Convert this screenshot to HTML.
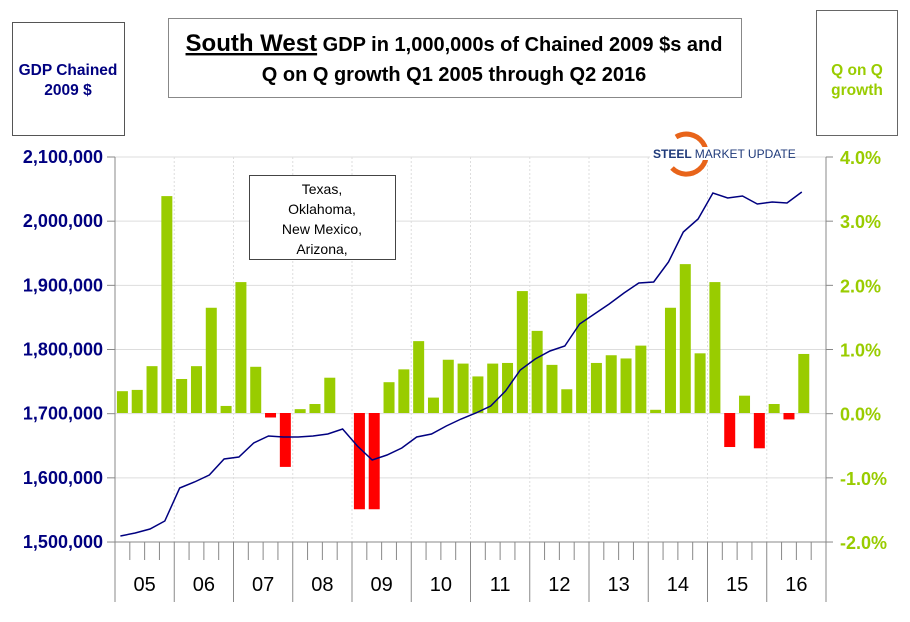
<!DOCTYPE html>
<html><head><meta charset="utf-8"><style>
html,body{margin:0;padding:0;background:#fff;}
svg{display:block;font-family:"Liberation Sans",Arial,sans-serif;}
</style></head><body>
<svg id="c" width="910" height="622" viewBox="0 0 910 622" xmlns="http://www.w3.org/2000/svg">
<rect x="0" y="0" width="910" height="622" fill="#fff"/>
<g id="grid"></g>
<rect x="12.5" y="22.5" width="112" height="113" fill="#fff" stroke="#555"/>
<text x="68" y="75" text-anchor="middle" font-size="15.5" font-weight="bold" fill="#000080">GDP Chained</text>
<text x="68" y="95" text-anchor="middle" font-size="15.5" font-weight="bold" fill="#000080">2009 $</text>
<rect x="816.5" y="10.5" width="81" height="125" fill="#fff" stroke="#666"/>
<text x="857" y="75" text-anchor="middle" font-size="15.5" font-weight="bold" fill="#99cc00">Q on Q</text>
<text x="857" y="95" text-anchor="middle" font-size="15.5" font-weight="bold" fill="#99cc00">growth</text>
<rect x="168.5" y="18.5" width="573" height="79" fill="#fff" stroke="#888"/>
<text x="454" y="51" text-anchor="middle" font-size="20" font-weight="bold"><tspan font-size="24" text-decoration="underline">South West</tspan> GDP in 1,000,000s of Chained 2009 $s and</text>
<text x="454" y="81" text-anchor="middle" font-size="20" font-weight="bold">Q on Q growth Q1 2005 through Q2 2016</text>
<rect x="249.5" y="175.5" width="146" height="84" fill="#fff" stroke="#444"/>
<text x="322" y="194" text-anchor="middle" font-size="14">Texas,</text>
<text x="322" y="214" text-anchor="middle" font-size="14">Oklahoma,</text>
<text x="322" y="234" text-anchor="middle" font-size="14">New Mexico,</text>
<text x="322" y="254" text-anchor="middle" font-size="14">Arizona,</text>
<path d="M676 137 A20 20 0 1 1 672 168" fill="none" stroke="#e8641a" stroke-width="5"/>
<rect x="650" y="147" width="132" height="13" fill="#fff"/>
<text x="653" y="158" font-size="12" font-weight="bold" fill="#1f3a7a">STEEL <tspan font-weight="normal">MARKET UPDATE</tspan></text>
</svg>
<script>
var s=document.getElementById('c'),g=document.getElementById('grid'),NS='http://www.w3.org/2000/svg';
function el(t,a,p){var e=document.createElementNS(NS,t);for(var k in a)e.setAttribute(k,a[k]);(p||g).appendChild(e);return e;}
var x0=115,x1=826,y0=157,y1=542,q=(x1-x0)/48,yr=q*4;
function Y(p){return 413-p*64.17;}
for(var i=0;i<=6;i++){var y=y0+i*64.17;el('line',{x1:x0,x2:x1,y1:y,y2:y,stroke:'#ddd'});
el('line',{x1:x0-8,x2:x0,y1:y,y2:y,stroke:'#888'});el('line',{x1:x1,x2:x1+7,y1:y,y2:y,stroke:'#888'});
var v=2100000-i*100000;el('text',{x:x0-12,y:y+6,'text-anchor':'end','font-size':18,'font-weight':'bold',fill:'#000080'}).textContent=v.toLocaleString('en-US');
var p=(4-i).toFixed(1)+'%';el('text',{x:x1+14,y:y+7,'font-size':18,'font-weight':'bold',fill:'#99cc00'}).textContent=p;}
for(var j=1;j<12;j++){var x=x0+j*yr;el('line',{x1:x,x2:x,y1:y0,y2:y1,stroke:'#ddd','stroke-dasharray':'2,2'});}
el('line',{x1:x0,x2:x0,y1:y0,y2:602,stroke:'#888'});el('line',{x1:x1,x2:x1,y1:y0,y2:602,stroke:'#888'});
el('line',{x1:x0,x2:x1,y1:y1,y2:y1,stroke:'#888'});
for(var k=0;k<=48;k++){var x=x0+k*q;var big=k%4==0;el('line',{x1:x,x2:x,y1:y1,y2:big?602:560,stroke:'#888'});}
var yrs=['05','06','07','08','09','10','11','12','13','14','15','16'];
for(var j=0;j<12;j++)el('text',{x:x0+j*yr+yr/2,y:591,'text-anchor':'middle','font-size':20}).textContent=yrs[j];
var b=[0.34,0.36,0.73,3.38,0.53,0.73,1.64,0.11,2.04,0.72,-0.07,-0.84,0.06,0.14,0.55,0,-1.5,-1.5,0.48,0.68,1.12,0.24,0.83,0.77,0.57,0.77,0.78,1.9,1.28,0.75,0.37,1.86,0.78,0.9,0.85,1.05,0.05,1.64,2.32,0.93,2.04,-0.53,0.27,-0.55,0.14,-0.1,0.92];
for(var i=0;i<b.length;i++){if(!b[i])continue;var cx=x0+q*(i+0.5),ya=Y(b[i]),yb=413;
el('rect',{x:cx-5.5,width:11,y:Math.min(ya,yb),height:Math.abs(yb-ya),fill:b[i]>0?'#99cc00':'#ff0000'});}
var L=[536,533,529,521,488,482,475,459,457,443,436,437,437,436,434,429,446,460,455,448,437,434,426,419,413,406,391,370,359,351,346,324,314,304,293,283,282,262,232,219,193,198,196,204,202,203,192];
var pts=L.map(function(y,i){return (x0+q*(i+0.5)-2).toFixed(1)+','+y;}).join(' ');
el('polyline',{points:pts,fill:'none',stroke:'#000080','stroke-width':1.5});
</script>
</body></html>
